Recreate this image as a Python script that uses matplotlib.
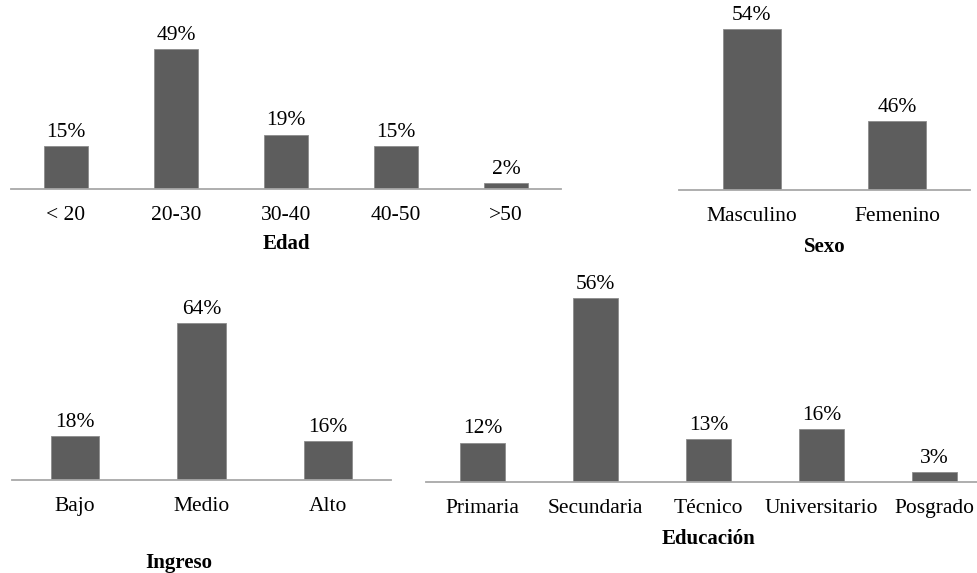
import matplotlib
matplotlib.use("Agg")
import numpy as np
import matplotlib.pyplot as plt

#################### DATA ####################

edad_cats = ['< 20', '20-30', '30-40', '40-50', '>50']
edad_vals = [15, 49, 19, 15, 2]

sexo_cats = ['Masculino', 'Femenino']
sexo_vals = [54, 46]

ingreso_cats = ['Bajo', 'Medio', 'Alto']
ingreso_vals = [18, 64, 16]

educ_cats = ['Primaria', 'Secundaria', 'Técnico', 'Universitario', 'Posgrado']
educ_vals = [12, 56, 13, 16, 3]

#################### STYLE ####################

W, H = 977, 573
plt.rcParams['font.family'] = ['Liberation Serif', 'DejaVu Serif']
bar_color = '#5d5d5d'
axis_color = '#a8a8a8'


def draw_panel(fig, cats, vals, title, x0, x1, base, top, ymin, k, width, title_px, title_x=0.5):
    # x0/x1/base/top are pixel positions of the plot area, k = pixels per percent
    ax = fig.add_axes([x0 / W, 1 - base / H, (x1 - x0) / W, (base - top) / H])
    idx = np.arange(len(cats))
    bars = ax.bar(idx, np.array(vals) - ymin, width, bottom=ymin,
                  color=bar_color, edgecolor='#8c8c8c', linewidth=0.6)
    for b, v in zip(bars, vals):
        ax.annotate('%d%%' % v, (b.get_x() + b.get_width() / 2, v),
                    xytext=(0, 3), textcoords='offset points',
                    ha='center', va='bottom', fontsize=15.5)
    ax.set_xlim(-0.5, len(cats) - 0.5)
    ax.set_ylim(ymin, ymin + (base - top) / k)
    ax.set_xticks(idx)
    ax.set_xticklabels(cats, fontsize=15.5)
    ax.tick_params(axis='x', length=0, pad=12)
    ax.set_yticks([])
    for s in ['top', 'left', 'right']:
        ax.spines[s].set_visible(False)
    ax.spines['bottom'].set_color(axis_color)
    ax.spines['bottom'].set_linewidth(1.3)
    ax.patch.set_alpha(0)
    ax.set_xlabel(title, fontsize=15, fontweight='bold')
    ax.xaxis.set_label_coords(title_x, -title_px / (base - top))
    ax.xaxis.label.set_va('center')
    return ax


def main():
    fig = plt.figure(figsize=(W / 100.0, H / 100.0), dpi=100)

    draw_panel(fig, edad_cats, edad_vals, 'Edad',
               11, 561, 189, 10, 0, 2.86, 0.4, 55)
    draw_panel(fig, sexo_cats, sexo_vals, 'Sexo',
               679, 970, 190, 5, 40, 11.5, 0.4, 57)
    draw_panel(fig, ingreso_cats, ingreso_vals, 'Ingreso',
               12, 391, 480, 300, 0, 2.45, 0.38, 83, title_x=(179 - 12) / 379.0)
    draw_panel(fig, educ_cats, educ_vals, 'Educación',
               426, 991, 482, 280, 0, 3.29, 0.39, 57)

    plt.savefig('out.png', dpi=100)


if __name__ == '__main__':
    main()
